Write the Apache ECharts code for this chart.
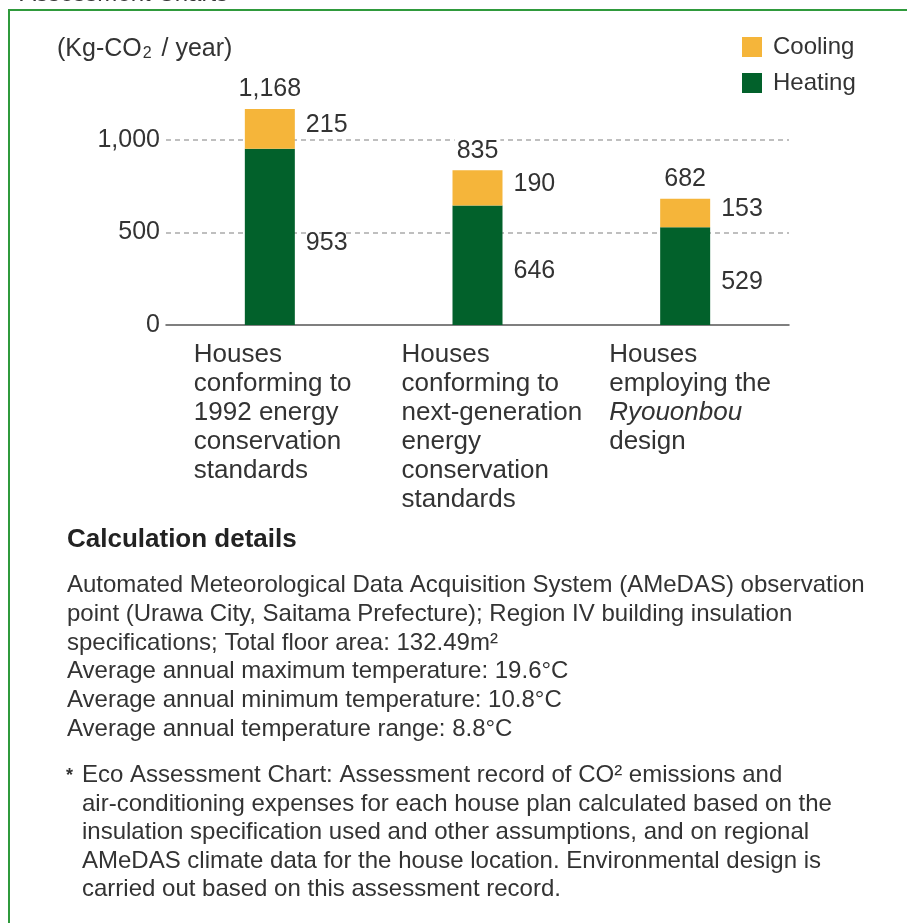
<!DOCTYPE html>
<html>
<head>
<meta charset="utf-8">
<script src="https://cdn.jsdelivr.net/npm/echarts@6/dist/echarts.min.js"></script>
<style>
html,body{margin:0;padding:0;background:#fff;}
#chart{width:907px;height:923px;}
</style>
</head>
<body>
<div id="chart"></div>
<script>
const categories = [
  "Houses\nconforming to\n1992 energy\nconservation\nstandards",
  "Houses\nconforming to\nnext-generation\nenergy\nconservation\nstandards",
  "Houses\nemploying the\nRyouonbou\ndesign"
];
const italicLines = ["Ryouonbou"];
const heating = [953, 646, 529];
const cooling = [215, 190, 153];
const totals = [1168, 835, 682];
const legendNames = ["Cooling", "Heating"];
const yMin = 0, yMax = 1200, yInterval = 500;

const detailsTitle = "Calculation details";
const detailsLines = [
  "Automated Meteorological Data Acquisition System (AMeDAS) observation",
  "point (Urawa City, Saitama Prefecture); Region IV building insulation",
  "specifications; Total floor area: 132.49m\u00b2",
  "Average annual maximum temperature: 19.6\u00b0C",
  "Average annual minimum temperature: 10.8\u00b0C",
  "Average annual temperature range: 8.8\u00b0C"
];
const noteLines = [
  "Eco Assessment Chart: Assessment record of CO\u00b2 emissions and",
  "air-conditioning expenses for each house plan calculated based on the",
  "insulation specification used and other assumptions, and on regional",
  "AMeDAS climate data for the house location. Environmental design is",
  "carried out based on this assessment record."
];

const FONT = '"Liberation Sans", Arial, Helvetica, sans-serif';
const TXT = '#333';
const GREEN = '#02612b';
const ORANGE = '#f5b53a';

const chart = echarts.init(document.getElementById('chart'));
const option = {
  animation: false,
  backgroundColor: '#fff',
  textStyle: { fontFamily: FONT },
  title: {
    left: 57, top: 37, padding: 0,
    text: '(Kg-CO{sub|2} / year)',
    textStyle: {
      fontFamily: FONT, fontSize: 25, fontWeight: 'normal', color: TXT,
      rich: { sub: { fontFamily: FONT, fontSize: 16, color: TXT, verticalAlign: 'bottom', padding: [0, 3, 0, 1] } }
    }
  },
  legend: {
    data: legendNames,
    orient: 'vertical',
    left: 742, top: 35,
    padding: 0,
    itemWidth: 20, itemHeight: 20, itemGap: 12,
    icon: 'rect',
    selectedMode: false,
    textStyle: { fontFamily: FONT, fontSize: 24, color: TXT, padding: [0, 0, 0, 6] }
  },
  grid: { left: 166, right: 118, top: 103, bottom: 598, containLabel: false },
  xAxis: {
    type: 'category',
    data: categories,
    axisLine: { show: true, lineStyle: { color: '#555', width: 1.5 } },
    axisTick: { show: false },
    axisLabel: {
      interval: 0, margin: 15, align: 'center',
      formatter: function (v) {
        return v.split('\n').map(function (l) {
          return '{' + (italicLines.indexOf(l) >= 0 ? 'i' : 'a') + '|' + l + '}';
        }).join('\n');
      },
      rich: {
        a: { fontFamily: FONT, fontSize: 26, lineHeight: 29, color: TXT, width: 152, align: 'left' },
        i: { fontFamily: FONT, fontSize: 26, lineHeight: 29, color: TXT, width: 152, align: 'left', fontStyle: 'italic' }
      }
    }
  },
  yAxis: {
    type: 'value',
    min: yMin, max: yMax, interval: yInterval,
    axisLine: { show: false },
    axisTick: { show: false },
    axisLabel: {
      showMaxLabel: false, margin: 6,
      fontFamily: FONT, fontSize: 25, color: TXT,
      formatter: function (v) { return v.toLocaleString('en-US'); }
    },
    splitLine: {
      show: true, showMinLine: false, showMaxLine: false,
      lineStyle: { color: '#aaa', type: [5, 4], width: 1.5 }
    }
  },
  series: [
    {
      name: 'Heating', type: 'bar', stack: 'total', data: heating,
      barWidth: 50, barGap: '-100%',
      itemStyle: { color: GREEN },
      label: { show: true, position: 'right', distance: 11, offset: [0, 6],
        fontFamily: FONT, fontSize: 25, color: TXT }
    },
    {
      name: 'Cooling', type: 'bar', stack: 'total', data: cooling,
      barWidth: 50, barGap: '-100%',
      itemStyle: { color: ORANGE },
      label: { show: true, position: 'right', distance: 11, offset: [0, -4],
        fontFamily: FONT, fontSize: 25, color: TXT }
    },
    {
      name: 'Total', type: 'bar', data: totals,
      barWidth: 50, barGap: '-100%', z: 1, silent: true,
      itemStyle: { color: 'rgba(0,0,0,0)' },
      label: { show: true, position: 'top', distance: 7,
        fontFamily: FONT, fontSize: 25, color: TXT,
        backgroundColor: '#fff', padding: [0, 2],
        formatter: function (p) { return p.value.toLocaleString('en-US'); } }
    }
  ],
  graphic: [
    { type: 'rect', silent: true, shape: { x: 9, y: 10, width: 1000, height: 1000 },
      style: { fill: 'none', stroke: '#2f9a3c', lineWidth: 2 } },
    { type: 'text', left: 20, top: -18, silent: true,
      style: { text: 'Assessment Charts', font: '24px ' + FONT, fill: TXT } },
    { type: 'text', left: 67, top: 527, silent: true,
      style: { text: detailsTitle, font: 'bold 26px ' + FONT, fill: '#222' } },
    { type: 'text', left: 67, top: 571, silent: true,
      style: { text: detailsLines.join('\n'), font: '24px ' + FONT, fill: TXT, lineHeight: 28.8 } },
    { type: 'text', left: 66, top: 767, silent: true,
      style: { text: '*', font: 'bold 18px ' + FONT, fill: TXT } },
    { type: 'text', left: 82, top: 761, silent: true,
      style: { text: noteLines.join('\n'), font: '24px ' + FONT, fill: TXT, lineHeight: 28.6 } }
  ]
};
chart.setOption(option);
</script>
</body>
</html>
